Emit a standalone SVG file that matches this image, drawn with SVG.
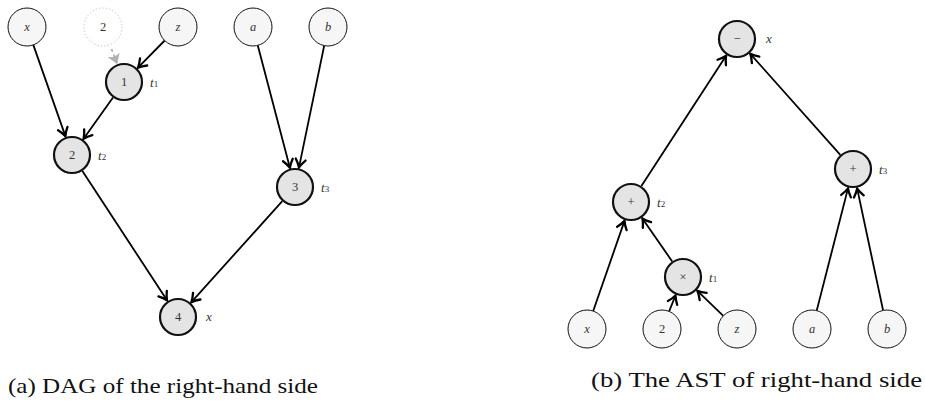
<svg xmlns="http://www.w3.org/2000/svg" width="925" height="405" viewBox="0 0 925 405">
  <style>
    .leaf { fill: #f6f6f6; stroke: #111; stroke-width: 1; }
    .op { fill: #e4e4e4; stroke: #111; stroke-width: 2.2; }
    .ghost { fill: none; stroke: #bdbdbd; stroke-width: 1; stroke-dasharray: 1.2 2.2; }
    text { font-family: 'Liberation Serif', 'Times New Roman', Times, 'DejaVu Serif', 'Noto Serif', serif; }
    .lbl { font-size: 12.5px; fill: #333; text-anchor: middle; dominant-baseline: central; }
    .it { font-style: italic; }
    .tag { font-size: 13px; font-style: italic; fill: #333; dominant-baseline: central; }
    .sub { font-size: 9px; font-style: normal; }
    .cap { font-size: 21px; fill: #111; }
    .edge { stroke: #000; stroke-width: 1.8; fill: none; marker-end: url(#arr); }
    .edge-ghost { stroke: #b0b0b0; stroke-width: 1.8; fill: none; stroke-dasharray: 3 3; marker-end: url(#arr-gray); }
  </style>
  <defs>
    <marker id="arr" markerUnits="userSpaceOnUse" markerWidth="14" markerHeight="14" viewBox="-10 -7 12 14" refX="0" refY="0" orient="auto">
      <path d="M -8 -5 C -4.5 -2.2, -1.8 -0.8, 0 0 C -1.8 0.8, -4.5 2.2, -8 5" fill="none" stroke="#000" stroke-width="2.3" stroke-linecap="round"/>
    </marker>
    <marker id="arr-gray" markerUnits="userSpaceOnUse" markerWidth="14" markerHeight="14" viewBox="-10 -7 12 14" refX="0" refY="0" orient="auto">
      <path d="M -8 -5 L 0 0 L -8 5 Q -5.5 0 -8 -5 Z" fill="#b0b0b0" stroke="#b0b0b0" stroke-width="1"/>
    </marker>
  </defs>

  <!-- connectors -->
  <g id="connectors">
    <!-- DAG -->
    <line class="edge" x1="33.3" y1="44.9" x2="65.4" y2="136.1"/>
    <line class="edge" x1="113.0" y1="97.5" x2="83.6" y2="138.7"/>
    <line class="edge" x1="164.7" y1="40.5" x2="138.0" y2="67.7"/>
    <line class="edge-ghost" x1="111.5" y1="49" x2="116.9" y2="63.3"/>
    <line class="edge" x1="257.8" y1="45.4" x2="289.9" y2="167.7"/>
    <line class="edge" x1="324.2" y1="45.6" x2="299.0" y2="167.4"/>
    <line class="edge" x1="82.4" y1="170.9" x2="167.0" y2="300.3"/>
    <line class="edge" x1="282.3" y1="201.1" x2="191.4" y2="302.1"/>
    <!-- AST -->
    <line class="edge" x1="593.2" y1="311.0" x2="624.5" y2="220.9"/>
    <line class="edge" x1="672.2" y1="261.4" x2="642.4" y2="218.4"/>
    <line class="edge" x1="669.1" y1="311.4" x2="675.5" y2="295.5"/>
    <line class="edge" x1="723.3" y1="315.8" x2="697.4" y2="290.9"/>
    <line class="edge" x1="816.7" y1="310.6" x2="848.0" y2="188.4"/>
    <line class="edge" x1="883.1" y1="310.4" x2="857.2" y2="188.6"/>
    <line class="edge" x1="641.4" y1="186.1" x2="726.1" y2="55.8"/>
    <line class="edge" x1="840.3" y1="154.8" x2="750.3" y2="53.9"/>
  </g>

  <!-- DAG nodes -->
  <g id="dag-x"><circle class="leaf" cx="27" cy="27" r="19"/><text class="lbl it" x="27" y="27">x</text></g>
  <g id="dag-2"><circle class="ghost" cx="103" cy="27" r="19"/><text class="lbl" x="103" y="27">2</text></g>
  <g id="dag-z"><circle class="leaf" cx="178" cy="27" r="19"/><text class="lbl it" x="178" y="27">z</text></g>
  <g id="dag-a"><circle class="leaf" cx="253" cy="27" r="19"/><text class="lbl it" x="253" y="27">a</text></g>
  <g id="dag-b"><circle class="leaf" cx="328" cy="27" r="19"/><text class="lbl it" x="328" y="27">b</text></g>
  <g id="dag-1"><circle class="op" cx="124" cy="82" r="18"/><text class="lbl" x="124" y="82">1</text>
    <text class="tag" x="150" y="82">t<tspan class="sub" dy="2">1</tspan></text></g>
  <g id="dag-n2"><circle class="op" cx="72" cy="155" r="18"/><text class="lbl" x="72" y="155">2</text>
    <text class="tag" x="98" y="155">t<tspan class="sub" dy="2">2</tspan></text></g>
  <g id="dag-3"><circle class="op" cx="295" cy="187" r="18"/><text class="lbl" x="295" y="187">3</text>
    <text class="tag" x="321" y="187">t<tspan class="sub" dy="2">3</tspan></text></g>
  <g id="dag-4"><circle class="op" cx="178" cy="317" r="18"/><text class="lbl" x="178" y="317">4</text>
    <text class="tag" x="206" y="316">x</text></g>

  <!-- AST nodes -->
  <g id="ast-minus"><circle class="op" cx="737" cy="39" r="18"/><text class="lbl" x="737" y="39">−</text>
    <text class="tag" x="766" y="38">x</text></g>
  <g id="ast-plus3"><circle class="op" cx="853" cy="169" r="18"/><text class="lbl" x="853" y="169">+</text>
    <text class="tag" x="879" y="169">t<tspan class="sub" dy="2">3</tspan></text></g>
  <g id="ast-plus2"><circle class="op" cx="631" cy="202" r="18"/><text class="lbl" x="631" y="202">+</text>
    <text class="tag" x="657" y="202">t<tspan class="sub" dy="2">2</tspan></text></g>
  <g id="ast-times"><circle class="op" cx="683" cy="277" r="18"/><text class="lbl" x="683" y="277">×</text>
    <text class="tag" x="709" y="277">t<tspan class="sub" dy="2">1</tspan></text></g>
  <g id="ast-x"><circle class="leaf" cx="587" cy="329" r="19"/><text class="lbl it" x="587" y="329">x</text></g>
  <g id="ast-2"><circle class="leaf" cx="662" cy="329" r="19"/><text class="lbl" x="662" y="329">2</text></g>
  <g id="ast-z"><circle class="leaf" cx="737" cy="329" r="19"/><text class="lbl it" x="737" y="329">z</text></g>
  <g id="ast-a"><circle class="leaf" cx="812" cy="329" r="19"/><text class="lbl it" x="812" y="329">a</text></g>
  <g id="ast-b"><circle class="leaf" cx="887" cy="329" r="19"/><text class="lbl it" x="887" y="329">b</text></g>

  <!-- captions -->
  <text class="cap" x="8" y="393" textLength="310" lengthAdjust="spacingAndGlyphs">(a) DAG of the right-hand side</text>
  <text class="cap" x="591" y="387" textLength="331" lengthAdjust="spacingAndGlyphs">(b) The AST of right-hand side</text>
</svg>
